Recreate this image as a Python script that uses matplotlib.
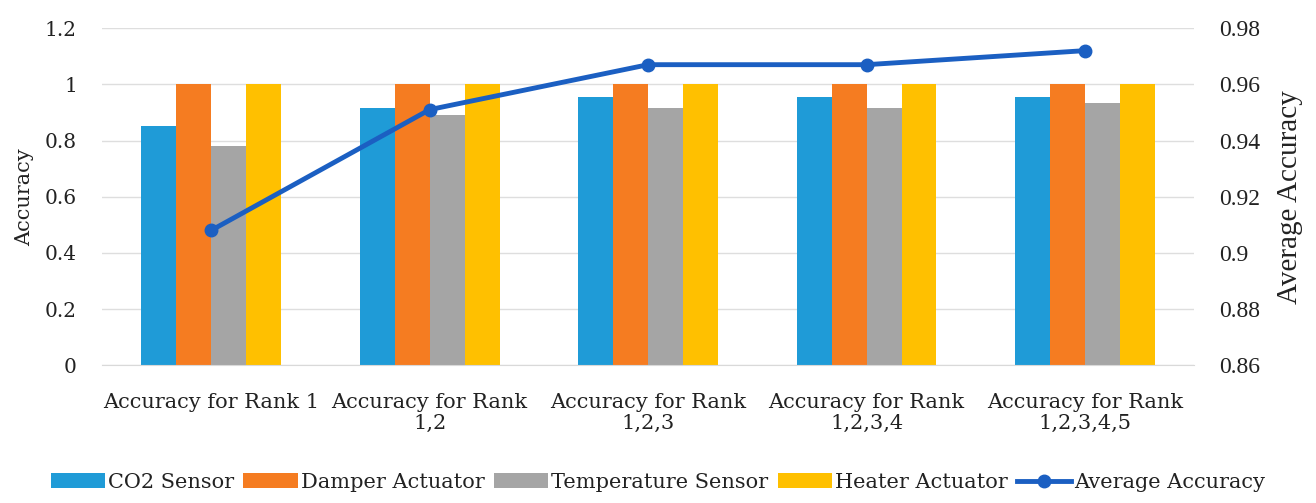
import matplotlib
matplotlib.use("Agg")
import matplotlib.pyplot as plt
import numpy as np

categories = ["Accuracy for Rank 1", "Accuracy for Rank\n1,2", "Accuracy for Rank\n1,2,3",
              "Accuracy for Rank\n1,2,3,4", "Accuracy for Rank\n1,2,3,4,5"]
co2_sensor = [0.85, 0.915, 0.955, 0.955, 0.955]
damper_actuator = [1.0, 1.0, 1.0, 1.0, 1.0]
temperature_sensor = [0.78, 0.89, 0.915, 0.915, 0.932]
heater_actuator = [1.0, 1.0, 1.0, 1.0, 1.0]
average_accuracy = [0.908, 0.951, 0.967, 0.967, 0.972]
left_ticks = ["0", "0.2", "0.4", "0.6", "0.8", "1", "1.2"]
right_ticks = ["0.86", "0.88", "0.9", "0.92", "0.94", "0.96", "0.98"]

series = [("CO2 Sensor", co2_sensor, "#1f9bd7"),
          ("Damper Actuator", damper_actuator, "#f57c21"),
          ("Temperature Sensor", temperature_sensor, "#a5a5a5"),
          ("Heater Actuator", heater_actuator, "#ffc000")]

plt.rcParams['font.family'] = ['DejaVu Serif']
txt = '#222222'

fig = plt.figure(figsize=(13.16, 5.03), dpi=100)
ax = fig.add_axes([0.0775, 0.274, 0.83, 0.67])
x = np.arange(len(categories))
w = 0.16
for i, (name, vals, col) in enumerate(series):
    ax.bar(x + (i - 1.5) * w, vals, w, color=col, label=name, zorder=2)

ax.set_ylim(0, 1.2)
ax.set_yticks(np.linspace(0, 1.2, 7))
ax.set_yticklabels(left_ticks)
ax.set_xlim(-0.5, len(categories) - 0.5)
ax.set_xticks(x)
ax.set_xticklabels(categories, fontsize=15, linespacing=1.15)
ax.grid(axis='y', color='#dedede', linewidth=1, zorder=0)
for s in ['top', 'left', 'right']:
    ax.spines[s].set_visible(False)
ax.spines['bottom'].set_color('#d9d9d9')
ax.tick_params(axis='both', length=0, colors=txt)
ax.tick_params(axis='x', pad=20)
ax.tick_params(axis='y', pad=18, labelsize=14.5)
ax.set_ylabel("Accuracy", fontsize=15, labelpad=8, color=txt)

ax2 = ax.twinx()
ax2.plot(x, average_accuracy, color="#1b5fc2", linewidth=3.5, marker='o', markersize=9,
         label="Average Accuracy", zorder=3)
ax2.set_ylim(0.86, 0.98)
ax2.set_yticks(np.linspace(0.86, 0.98, 7))
ax2.set_yticklabels(right_ticks, family='Liberation Serif', fontsize=17)
for s in ['top', 'left', 'right', 'bottom']:
    ax2.spines[s].set_visible(False)
ax2.tick_params(axis='y', length=0, colors=txt, pad=18)
ax2.set_ylabel("Average Accuracy", fontsize=21, labelpad=12, color=txt, family='Liberation Serif')

h1, l1 = ax.get_legend_handles_labels()
h2, l2 = ax2.get_legend_handles_labels()
leg = fig.legend(h1 + h2, l1 + l2, loc='lower center', bbox_to_anchor=(0.5, -0.015), ncol=5,
                 frameon=False, fontsize=15, handlelength=2.6, handletextpad=0.15,
                 columnspacing=0.45)
for t in leg.get_texts():
    t.set_color(txt)

fig.savefig("out.png", dpi=100)
